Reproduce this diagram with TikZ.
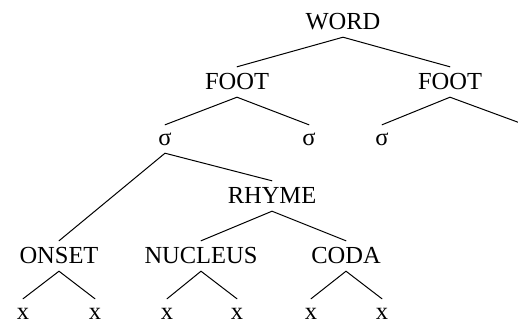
\documentclass[tikz,border=0pt]{standalone}
\usepackage{fontspec}
\setmainfont{Liberation Serif}
\begin{document}
\begin{tikzpicture}[x=1pt,y=-1pt,
  lab/.style={anchor=base,inner xsep=0pt,inner ysep=6pt,text height=16pt,text depth=2pt,
    font=\fontsize{24.5}{29}\selectfont},
  low/.style={lab,text height=14pt},
  br/.style={line width=1pt,line cap=round}]
\useasboundingbox (0,0) rectangle (518,322);
\clip (0,0) rectangle (518,322);
% nodes
\node[lab] (word) at (343,29) {WORD};
\node[lab] (footL) at (237,89) {FOOT};
\node[lab] (footR) at (450,89) {FOOT};
\node[low] (s1) at (165,145) {σ};
\node[low] (s2) at (309,145) {σ};
\node[low] (s3) at (382,145) {σ};
\node[low] (s4) at (525,145) {σ};
\node[lab] (rhyme) at (272,203) {RHYME};
\node[lab] (onset) at (59,263) {ONSET};
\node[lab] (nucleus) at (201,263) {NUCLEUS};
\node[lab] (coda) at (346,263) {CODA};
\node[low] (x1) at (23,319) {x};
\node[low] (x2) at (95,319) {x};
\node[low] (x3) at (167,319) {x};
\node[low] (x4) at (237,319) {x};
\node[low] (x5) at (311,319) {x};
\node[low] (x6) at (382,319) {x};
% branches
\draw[br] (footL.north) -- (word.south) -- (footR.north);
\draw[br] (s1.north) -- (footL.south) -- (s2.north);
\draw[br] (s3.north) -- (footR.south) -- (s4.north);
\draw[br] (onset.north) -- (s1.south) -- (rhyme.north);
\draw[br] (nucleus.north) -- (rhyme.south) -- (coda.north);
\draw[br] (x1.north) -- (onset.south) -- (x2.north);
\draw[br] (x3.north) -- (nucleus.south) -- (x4.north);
\draw[br] (x5.north) -- (coda.south) -- (x6.north);
\end{tikzpicture}
\end{document}
